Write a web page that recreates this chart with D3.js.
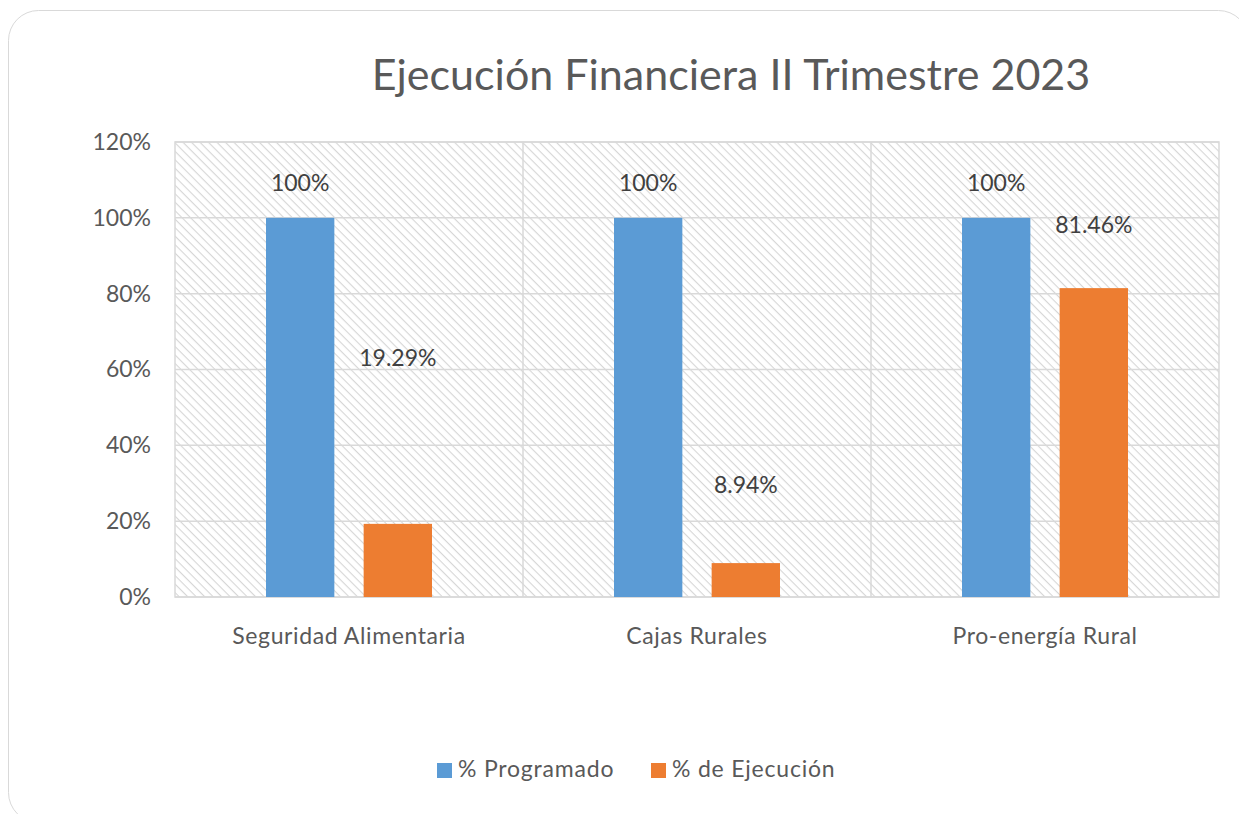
<!DOCTYPE html>
<html>
<head>
<meta charset="utf-8">
<script src="https://cdn.jsdelivr.net/npm/d3@7"></script>
<style>
  body { margin: 0; background: #fff; }
  svg text { font-family: Lato, "Open Sans", sans-serif; fill: #595959; }
</style>
</head>
<body>
<svg id="chart" width="1239" height="814"></svg>
<script>
/* ===========================================================
   Ejecución Financiera II Trimestre 2023
   =========================================================== */

const categories = ['Seguridad Alimentaria', 'Cajas Rurales', 'Pro-energía Rural'];
const seriesNames = ['% Programado', '% de Ejecución'];
const programado = [100, 100, 100];
const ejecucion = [19.29, 8.94, 81.46];
const labelsProgramado = ['100%', '100%', '100%'];
const labelsEjecucion = ['19.29%', '8.94%', '81.46%'];
// where Excel left the data labels, in axis units
const labelPosProgramado = [108.5, 108.5, 108.5];
const labelPosEjecucion = [62.5, 29, 97.5];
const yTicks = [0, 20, 40, 60, 80, 100, 120];

const COLORS = { '% Programado': '#5B9BD5', '% de Ejecución': '#ED7D31' };

function drawChart() {
  const svg = d3.select('#chart');
  svg.selectAll('*').remove();

  // card outline
  svg.append('rect')
    .attr('x', 8.5).attr('y', 10.5)
    .attr('width', 1240).attr('height', 812)
    .attr('rx', 30)
    .attr('fill', '#fff')
    .attr('stroke', '#d9d9d9');

  const defs = svg.append('defs');
  const pat = defs.append('pattern')
    .attr('id', 'hatch')
    .attr('patternUnits', 'userSpaceOnUse')
    .attr('width', 6).attr('height', 6)
    .attr('patternTransform', 'rotate(45)');
  pat.append('rect').attr('width', 6).attr('height', 6).attr('fill', '#fff');
  pat.append('line')
    .attr('x1', 0).attr('y1', 0).attr('x2', 6).attr('y2', 0)
    .attr('stroke', '#d6d6d6').attr('stroke-width', 2.2);

  const margin = { top: 142, left: 175 };
  const W = 1044, H = 455;
  const g = svg.append('g').attr('transform', `translate(${margin.left},${margin.top})`);

  const x = d3.scaleBand().domain(categories).range([0, W]);
  const x1 = d3.scaleBand().domain(seriesNames)
    .range([91, x.bandwidth() - 91]).paddingInner(0.3);
  const y = d3.scaleLinear().domain([0, 120]).range([H, 0]);

  g.append('rect')
    .attr('width', W).attr('height', H)
    .attr('fill', 'url(#hatch)');

  // gridlines
  g.append('g').selectAll('line')
    .data(yTicks).enter().append('line')
      .attr('x1', 0).attr('x2', W)
      .attr('y1', d => y(d)).attr('y2', d => y(d))
      .attr('stroke', '#d9d9d9').attr('stroke-width', 1.5);

  // category separators
  g.append('g').selectAll('line')
    .data(categories.slice(1)).enter().append('line')
      .attr('x1', d => x(d)).attr('x2', d => x(d))
      .attr('y1', 0).attr('y2', H)
      .attr('stroke', '#d9d9d9').attr('stroke-width', 1.5);

  g.append('rect')
    .attr('width', W).attr('height', H)
    .attr('fill', 'none')
    .attr('stroke', '#d9d9d9').attr('stroke-width', 1.5);

  // y axis
  const yAxis = g.append('g')
    .call(d3.axisLeft(y).tickValues(yTicks).tickFormat(d => d + '%').tickSize(0).tickPadding(24));
  yAxis.select('.domain').remove();
  yAxis.selectAll('text').attr('font-size', 23).attr('fill', '#595959');

  // x axis
  const xAxis = g.append('g')
    .attr('transform', `translate(0,${H})`)
    .call(d3.axisBottom(x).tickSize(0).tickPadding(31));
  xAxis.select('.domain').remove();
  xAxis.selectAll('text')
    .attr('font-size', 23).attr('fill', '#595959')
    .attr('letter-spacing', 0.6);

  const rows = categories.map((c, i) => ({
    cat: c,
    vals: [
      { s: seriesNames[0], v: programado[i], label: labelsProgramado[i], lp: labelPosProgramado[i] },
      { s: seriesNames[1], v: ejecucion[i], label: labelsEjecucion[i], lp: labelPosEjecucion[i] }
    ]
  }));

  const grp = g.selectAll('.cat')
    .data(rows).enter().append('g')
      .attr('transform', d => `translate(${x(d.cat)},0)`);

  grp.selectAll('rect')
    .data(d => d.vals).enter().append('rect')
      .attr('x', d => x1(d.s))
      .attr('width', x1.bandwidth())
      .attr('y', d => y(d.v))
      .attr('height', d => H - y(d.v))
      .attr('fill', d => COLORS[d.s]);

  grp.selectAll('text.lbl')
    .data(d => d.vals).enter().append('text')
      .attr('class', 'lbl')
      .attr('x', d => x1(d.s) + x1.bandwidth() / 2)
      .attr('y', d => y(d.lp))
      .attr('text-anchor', 'middle')
      .attr('dominant-baseline', 'middle')
      .attr('font-size', 23)
      .style('fill', '#404040')
      .text(d => d.label);

  // title
  svg.append('text')
    .attr('x', 731).attr('y', 90)
    .attr('text-anchor', 'middle')
    .attr('font-size', 43)
    .text('Ejecución Financiera II Trimestre 2023');

  // legend
  const legend = svg.append('g').attr('transform', 'translate(437,763)');
  const items = legend.selectAll('g')
    .data(seriesNames).enter().append('g')
      .attr('transform', (d, i) => `translate(${i * 214},0)`);
  items.append('rect')
    .attr('width', 15).attr('height', 15)
    .attr('fill', d => COLORS[d]);
  items.append('text')
    .attr('x', 21).attr('y', 8)
    .attr('dominant-baseline', 'middle')
    .attr('font-size', 23)
    .attr('letter-spacing', 0.8)
    .text(d => d);
}

drawChart();
</script>
</body>
</html>
